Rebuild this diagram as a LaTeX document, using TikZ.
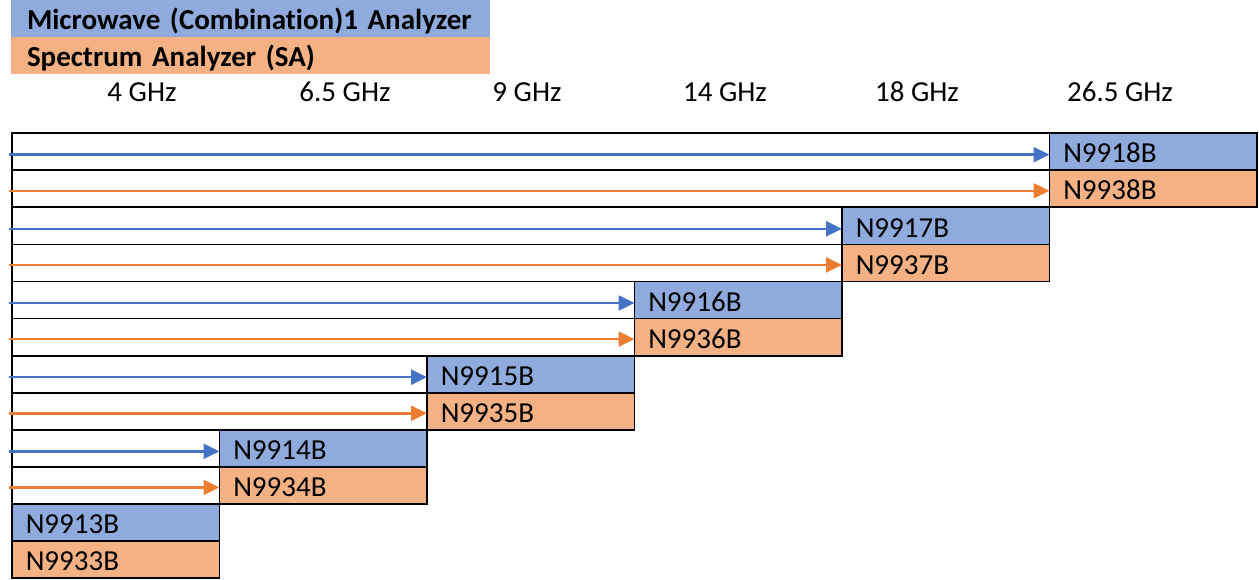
\documentclass[tikz,border=0pt]{standalone}
\usepackage{fontspec}
\setmainfont{Carlito}[Ligatures=NoCommon]
\usetikzlibrary{arrows.meta}

\definecolor{mwfill}{HTML}{8FAADC}
\definecolor{safill}{HTML}{F4B183}
\definecolor{mwline}{HTML}{4472C4}
\definecolor{saline}{HTML}{ED7D31}

\tikzset{
  part/.style={draw=black, line width=0.85pt, rectangle, anchor=north west, outer sep=0pt,
    minimum height=18.54pt, text width=90pt, inner xsep=6.875pt, align=left,
    text height=11.5pt, text depth=0.3pt, font=\fontsize{14.5}{17}\selectfont},
  mwpart/.style={part, fill=mwfill},
  sapart/.style={part, fill=safill},
  keybox/.style={rectangle, anchor=north west, outer sep=0pt, minimum height=18pt,
    text width=223.5pt, inner xsep=8pt, align=left, text height=11.5pt, text depth=0.3pt,
    font=\fontsize{14.5}{17}\selectfont\bfseries},
  sweep/.style={line width=1.25pt, -{Triangle[length=8pt,width=7.5pt]}},
}

\begin{document}
\begin{tikzpicture}[x=0.5pt,y=-0.5pt]
\useasboundingbox (0,0) rectangle (1259,579);

% legend
\node[keybox, fill=mwfill] (keymw) at (11,0) {Microwave (Combination)1 Analyzer};
\node[keybox, fill=safill, minimum height=18.3pt] (keysa) at (keymw.south west) {Spectrum Analyzer (SA)};

% frequency scale
\foreach \x/\f [count=\k] in {142/4, 345/6.5, 527/9, 725/14, 917/18, 1120/26.5}
    \node[font=\fontsize{14.5}{17}\selectfont] (freq\k) at (\x,92) {\f~GHz};

\foreach \i/\mw/\sa in {0/N9913B/N9933B, 1/N9914B/N9934B, 2/N9915B/N9935B,
                        3/N9916B/N9936B, 4/N9917B/N9937B, 5/N9918B/N9938B} {
    \pgfmathsetmacro\cx{12+\i*207.5}   % left edge of the column
    \pgfmathsetmacro\ry{504-\i*74.17}  % top of the pair
    \node[mwpart] (mw\i) at (\cx,\ry) {\mw};
    \node[sapart] (sa\i) at (mw\i.south west) {\sa};
    \ifnum\i>0
        \draw[line width=0.85pt] (12,\ry) rectangle (mw\i.south west);
        \draw[line width=0.85pt] (12,\ry+37.08) rectangle (sa\i.south west);
        \coordinate (mws\i) at (9,\ry+21.5);
        \coordinate (sas\i) at (9,\ry+57.6);
        \draw[sweep, mwline] (mws\i) -- (mws\i -| mw\i.west);
        \draw[sweep, saline] (sas\i) -- (sas\i -| sa\i.west);
    \fi
}
\end{tikzpicture}
\end{document}
